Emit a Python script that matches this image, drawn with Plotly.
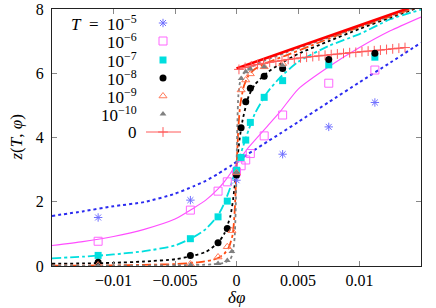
import plotly.graph_objects as go

# ---------------- data ----------------
t5_x = [-0.01125, -0.00375, 0.0, 0.00375, 0.0075, 0.01125]
t5_z = [1.51, 2.05, 2.67, 3.48, 4.33, 5.09]

t6_x = [-0.01125, -0.00375, -0.0015, -0.00075, 0.0, 0.000375, 0.00075, 0.001125, 0.00225, 0.00375, 0.0075, 0.01125]
t6_z = [0.77, 1.74, 2.33, 2.62, 2.93, 3.12, 3.30, 3.50, 4.05, 4.70, 5.69, 6.10]

t7_x = [-0.01125, -0.00375, -0.0015, -0.00075, 0.0, 0.000375, 0.00075, 0.001125, 0.00225, 0.00375, 0.0075, 0.01125]
t7_z = [0.33, 0.85, 1.53, 2.02, 2.98, 3.38, 3.92, 4.47, 5.25, 5.77, 6.26, 6.50]

t8_x = [-0.01125, -0.00375, -0.0015, -0.00075, 0.0, 0.000375, 0.00075, 0.001125, 0.00225, 0.00375, 0.0075, 0.01125]
t8_z = [0.12, 0.33, 0.72, 1.17, 2.83, 4.30, 5.11, 5.53, 5.91, 6.15, 6.43, 6.62]

t9_x = [-0.01125, -0.00375, -0.0015, -0.00075, -0.000375, 0.0, 0.000375, 0.00075, 0.001125, 0.00225, 0.00375]
t9_z = [0.03, 0.06, 0.28, 0.60, 1.10, 2.90, 5.48, 5.79, 5.98, 6.20, 6.30]

t10_x = [-0.01125, -0.00375, -0.0015, -0.00075, -0.000375, 0.0, 0.000375, 0.00075, 0.001125, 0.00225, 0.00375]
t10_z = [0.01, 0.03, 0.08, 0.17, 0.45, 2.90, 5.84, 6.05, 6.13, 6.20, 6.24]

t0_x = [0.0002, 0.0007, 0.0012, 0.0017, 0.0022, 0.0027, 0.0032, 0.0037, 0.0042, 0.0047,
        0.0052, 0.0057, 0.0062, 0.0067, 0.0072, 0.0077, 0.0082, 0.0087, 0.0092, 0.0097,
        0.0102, 0.0107, 0.0112, 0.0117, 0.0122, 0.0127, 0.0132, 0.0137]
t0_z = [6.12, 6.18, 6.23, 6.27, 6.31, 6.34, 6.37, 6.40, 6.43, 6.45,
        6.48, 6.50, 6.52, 6.54, 6.56, 6.58, 6.60, 6.62, 6.64, 6.65,
        6.67, 6.69, 6.70, 6.72, 6.74, 6.76, 6.78, 6.80]

# theory curves
g_x = [-0.015, -0.0125, -0.01, -0.0075, -0.005, -0.0035, -0.0025, -0.0015, -0.001, -0.0005,
       -0.00025, 0.0, 0.00025, 0.0005, 0.001, 0.0015, 0.0025, 0.0035, 0.005, 0.0075,
       0.01, 0.0125, 0.015]
c5_z = [1.56, 1.70, 1.86, 1.99, 2.25, 2.48, 2.65, 2.87, 2.99, 3.11,
        3.18, 3.24, 3.30, 3.37, 3.50, 3.62, 3.87, 4.11, 4.48, 5.10,
        5.72, 6.33, 6.95]
c6_z = [0.64, 0.76, 0.92, 1.14, 1.46, 1.80, 2.05, 2.40, 2.62, 2.88,
        3.03, 3.18, 3.32, 3.45, 3.70, 3.92, 4.35, 4.78, 5.50, 6.20,
        6.80, 7.32, 7.75]
c7_z = [0.24, 0.29, 0.36, 0.46, 0.64, 0.90, 1.15, 1.58, 1.95, 2.45,
        2.78, 3.10, 3.38, 3.68, 4.25, 4.75, 5.40, 5.85, 6.35, 6.85,
        7.22, 7.68, 7.98]
c8_z = [0.07, 0.08, 0.10, 0.14, 0.21, 0.32, 0.44, 0.72, 1.00, 1.55,
        2.15, 3.05, 3.95, 4.55, 5.30, 5.65, 6.02, 6.28, 6.60, 7.00,
        7.38, 7.73, 8.08]

c9_x = [-0.015, -0.01, -0.005, -0.003, -0.002, -0.0015, -0.001, -0.0006, -0.0003, -0.00015,
        0.0, 0.00015, 0.0003, 0.0006, 0.001, 0.0015, 0.0025, 0.004, 0.006, 0.009, 0.012, 0.015]
c9_z = [0.01, 0.02, 0.06, 0.12, 0.18, 0.25, 0.38, 0.60, 1.00, 1.70,
        3.00, 4.30, 5.00, 5.60, 5.95, 6.13, 6.33, 6.55, 6.85, 7.30, 7.70, 8.10]

c10_x = [-0.015, -0.01, -0.005, -0.002, -0.001, -0.0005, -0.0003, -0.00015, -0.00007, 0.0,
         0.00007, 0.00015, 0.0003, 0.0006, 0.001, 0.002, 0.004, 0.008, 0.015]
c10_z = [0.0, 0.01, 0.02, 0.05, 0.10, 0.22, 0.40, 0.90, 1.70, 3.00,
         4.40, 5.30, 5.75, 6.00, 6.15, 6.35, 6.64, 7.18, 8.12]

c0_x = [0.0, 0.015]
c0_z = [6.15, 8.16]

legend_labels = ["<i>T</i>&nbsp;&nbsp;=&nbsp;&nbsp;10<sup>−5</sup>", "10<sup>−6</sup>", "10<sup>−7</sup>",
                 "10<sup>−8</sup>", "10<sup>−9</sup>", "10<sup>−10</sup>", "0"]

x_tickvals = [-0.01, -0.005, 0, 0.005, 0.01]
x_ticktext = ["−0.01", "−0.005", "0", "0.005", "0.01"]
y_tickvals = [0, 2, 4, 6, 8]
y_ticktext = ["0", "2", "4", "6", "8"]

# ---------------- styles ----------------
FONT = "Liberation Serif"
C_BLUE_L, C_BLUE_M = "#2b2bf0", "#6f6fff"
C_MAG_L, C_MAG_M = "#ff4dff", "#ff66ff"
C_CYAN = "#00dede"
C_BLACK = "#000000"
C_OR_L, C_OR_M = "#ff4a10", "#ff7a5a"
C_GRAY = "#808080"
C_RED, C_RED_M = "#ff0000", "#ff5a5a"

fig = go.Figure()

def line(x, y, color, dash, width=1.6):
    fig.add_trace(go.Scatter(x=x, y=y, mode="lines",
                             line=dict(color=color, dash=dash, width=width, shape="spline", smoothing=0.6),
                             showlegend=False, hoverinfo="skip"))

def pts(x, y, symbol, color, size, lw=1.0):
    fig.add_trace(go.Scatter(x=x, y=y, mode="markers",
                             marker=dict(symbol=symbol, color=color, size=size, line=dict(width=lw, color=color)),
                             showlegend=False, hoverinfo="skip"))

line(g_x, c5_z, C_BLUE_L, "dot", 2)
line(g_x, c6_z, C_MAG_L, "solid", 1.1)
line(g_x, c7_z, C_CYAN, "dashdot", 1.8)
line(g_x, c8_z, C_BLACK, "dot", 1.8)
line(c9_x, c9_z, C_OR_L, "dashdot", 1.8)
line(c10_x, c10_z, C_GRAY, "dot", 1.8)
fig.add_trace(go.Scatter(x=c0_x, y=c0_z, mode="lines", line=dict(color=C_RED, width=2.6),
                         showlegend=False, hoverinfo="skip"))

fig.add_trace(go.Scatter(x=t0_x, y=t0_z, mode="lines+markers", line=dict(color=C_RED_M, width=1),
                         marker=dict(symbol="cross-thin-open", size=7, color=C_RED_M, line=dict(width=1, color=C_RED_M)),
                         showlegend=False, hoverinfo="skip"))
pts(t5_x, t5_z, "asterisk-open", C_BLUE_M, 7)
pts(t6_x, t6_z, "square-open", C_MAG_M, 8)
pts(t7_x, t7_z, "square", C_CYAN, 7, 0)
pts(t8_x, t8_z, "circle", C_BLACK, 7, 0)
pts(t9_x, t9_z, "triangle-up-open", C_OR_M, 7)
pts(t10_x, t10_z, "triangle-up", C_GRAY, 6, 0)

# ---------------- legend (manual, gnuplot style: text then key) ----------------
key_x = 163
row_y = [23, 41, 60, 78, 96, 114, 132]
key_styles = [("asterisk-open", C_BLUE_M, 7, 1), ("square-open", C_MAG_M, 8, 1), ("square", C_CYAN, 7, 0),
              ("circle", C_BLACK, 7, 0), ("triangle-up-open", C_OR_M, 7, 1), ("triangle-up", C_GRAY, 6, 0)]
for (sym, col, sz, lw), yy in zip(key_styles, row_y[:6]):
    fig.add_trace(go.Scatter(x=[key_x], y=[yy], xaxis="x2", yaxis="y2", mode="markers",
                             marker=dict(symbol=sym, color=col, size=sz, line=dict(width=lw, color=col)),
                             showlegend=False, hoverinfo="skip"))
fig.add_trace(go.Scatter(x=[146, 181], y=[row_y[6], row_y[6]], xaxis="x2", yaxis="y2", mode="lines",
                         line=dict(color=C_RED_M, width=1), showlegend=False, hoverinfo="skip"))
fig.add_trace(go.Scatter(x=[key_x], y=[row_y[6]], xaxis="x2", yaxis="y2", mode="markers",
                         marker=dict(symbol="cross-thin-open", size=7, color=C_RED_M, line=dict(width=1, color=C_RED_M)),
                         showlegend=False, hoverinfo="skip"))
for lab, yy in zip(legend_labels, row_y):
    fig.add_annotation(x=139, y=yy, xref="x2", yref="y2", text=lab, showarrow=False,
                       xanchor="right", yanchor="middle", font=dict(family=FONT, size=17, color="#000"))

# axis titles as annotations
fig.add_annotation(x=0.5, y=0, xref="paper", yref="paper", yshift=-31, text="<i>δφ</i>",
                   showarrow=False, xanchor="center", yanchor="middle",
                   font=dict(family=FONT, size=17, color="#000"))
fig.add_annotation(x=0, y=0.5, xref="paper", yref="paper", xshift=-36, text="<i>z</i>(<i>T</i>, <i>φ</i>)",
                   showarrow=False, textangle=-90, xanchor="center", yanchor="middle",
                   font=dict(family=FONT, size=17, color="#000"))

axis_common = dict(showline=True, linecolor="#222", linewidth=1, mirror="ticks", ticks="inside",
                   ticklen=5, tickcolor="#888", showgrid=False, zeroline=False, automargin=False,
                   tickfont=dict(family=FONT, size=16, color="#000"))

fig.update_layout(
    width=436, height=308,
    margin=dict(l=52, r=15, t=9, b=42, autoexpand=False),
    paper_bgcolor="white", plot_bgcolor="white",
    showlegend=False,
    font=dict(family=FONT, size=16, color="#000"),
    xaxis=dict(range=[-0.015, 0.015], tickvals=x_tickvals, ticktext=x_ticktext, **axis_common),
    yaxis=dict(range=[0, 8], tickvals=y_tickvals, ticktext=y_ticktext, ticklabelstandoff=4, **axis_common),
    xaxis2=dict(range=[52, 421], overlaying="x", visible=False, anchor="y2"),
    yaxis2=dict(range=[266, 9], overlaying="y", visible=False, anchor="x2"),
)

fig.write_html("out.html", config={"displayModeBar": False, "staticPlot": True},
               post_script="document.body.style.margin='0';document.body.style.padding='0';")
